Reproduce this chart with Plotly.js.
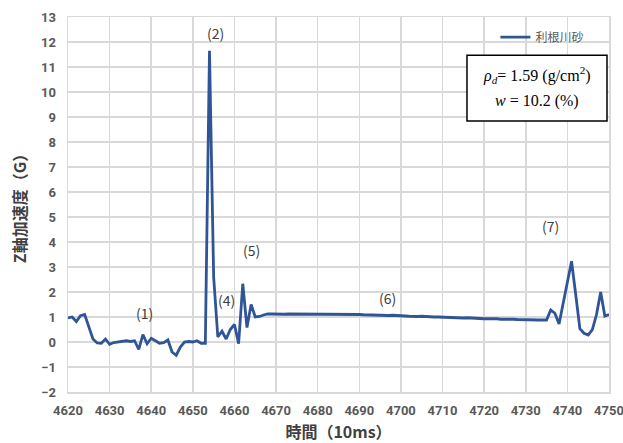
<!DOCTYPE html>
<html>
<head>
<meta charset="utf-8">
<script src="https://cdn.plot.ly/plotly-3.0.1.min.js"></script>
<style>html,body{margin:0;padding:0;background:#fff;}#chart{width:623px;height:443px;}</style>
</head>
<body>
<div id="chart"></div>
<script>
const seriesName = "利根川砂";
const time = [4620,4621,4622,4623,4624,4625,4626,4627,4628,4629,
4630,4631,4632,4633,4634,4635,4636,4637,4638,4639,
4640,4641,4642,4643,4644,4645,4646,4647,4648,4649,
4650,4651,4652,4653,4654,4655,4656,4657,4658,4659,
4660,4661,4662,4663,4664,4665,4666,4667,4668,4669,
4670,4671,4672,4673,4674,4675,4676,4677,4678,4679,
4680,4681,4682,4683,4684,4685,4686,4687,4688,4689,
4690,4691,4692,4693,4694,4695,4696,4697,4698,4699,
4700,4701,4702,4703,4704,4705,4706,4707,4708,4709,
4710,4711,4712,4713,4714,4715,4716,4717,4718,4719,
4720,4721,4722,4723,4724,4725,4726,4727,4728,4729,
4730,4731,4732,4733,4734,4735,4736,4737,4738,4739,
4740,4741,4742,4743,4744,4745,4746,4747,4748,4749,4750];
const accelZ = [0.96,1.0,0.82,1.05,1.1,0.6,0.12,-0.04,-0.05,0.12,
-0.09,-0.02,0.0,0.02,0.05,0.02,0.05,-0.3,0.3,-0.07,
0.15,0.05,-0.05,-0.03,0.08,-0.4,-0.53,-0.2,0.0,0.02,
0.0,0.05,-0.05,-0.05,11.65,2.6,0.2,0.43,0.12,0.5,
0.7,-0.07,2.33,0.58,1.5,1.0,1.02,1.08,1.12,1.12,
1.11,1.12,1.11,1.12,1.12,1.11,1.12,1.13,1.12,1.13,
1.12,1.12,1.11,1.12,1.11,1.10,1.12,1.11,1.10,1.12,
1.10,1.09,1.08,1.09,1.07,1.08,1.07,1.06,1.07,1.05,
1.05,1.04,1.03,1.01,1.02,1.03,1.01,1.02,1.00,1.00,
0.99,0.98,0.99,0.97,0.97,0.96,0.97,0.95,0.95,0.94,
0.93,0.94,0.92,0.93,0.91,0.92,0.90,0.91,0.90,0.89,
0.88,0.89,0.88,0.88,0.88,0.88,1.28,1.15,0.72,1.6,
2.4,3.23,1.9,0.53,0.35,0.28,0.5,1.1,2.0,1.04,1.1];
const labelText = ["(1)","(2)","(4)","(5)","(6)","(7)"];
const labelX = [4638.3,4655.4,4658.0,4664.0,4696.7,4735.9];
const labelY = [1.15,12.35,1.67,3.67,1.75,4.63];
const xTicks = [4620,4630,4640,4650,4660,4670,4680,4690,4700,4710,4720,4730,4740,4750];
const yTicks = [-2,-1,0,1,2,3,4,5,6,7,8,9,10,11,12,13];

const gridC = '#d9d9d9';
const tickFont = {family:'Roboto, "Noto Sans CJK JP", sans-serif', size:13, color:'#595959', weight:'bold'};
const annotations = labelText.map((t,i)=>({x:labelX[i], y:labelY[i], text:t, showarrow:false,
  xanchor:'center', yanchor:'middle',
  font:{family:'"Noto Sans CJK JP", sans-serif', size:14, color:'#404040'}}));
annotations.push({xref:'paper', yref:'paper', x:0.867, y:0.845, xanchor:'center', yanchor:'middle',
  text:'<i>ρ<sub>d</sub></i>= 1.59 (g/cm<sup>2</sup>)', showarrow:false,
  font:{family:'"Liberation Serif", serif', size:16, color:'#000'}});
annotations.push({xref:'paper', yref:'paper', x:0.867, y:0.776, xanchor:'center', yanchor:'middle',
  text:'<i>w</i> = 10.2 (%)', showarrow:false,
  font:{family:'"Liberation Serif", serif', size:16, color:'#000'}});

Plotly.newPlot('chart', [{
  x: time, y: accelZ, type:'scatter', mode:'lines', name: seriesName,
  line:{color:'#2f5597', width:2.8}
}], {
  width:623, height:443,
  margin:{l:68, r:14, t:17, b:51},
  paper_bgcolor:'#fff', plot_bgcolor:'#fff',
  showlegend:true,
  legend:{x:0.79, y:0.985, xanchor:'left', yanchor:'top', bgcolor:'rgba(0,0,0,0)',
    font:{family:'"Noto Sans CJK JP", sans-serif', size:12, color:'#595959'}},
  xaxis:{range:[4620,4750], tickvals:xTicks, showgrid:true, gridcolor:gridC, gridwidth:1.5,
    zeroline:false, showline:true, linecolor:gridC, linewidth:1.5, mirror:true,
    tickfont:tickFont, ticks:'', ticklabelstandoff:6, ticklabeloverflow:'allow',
    title:{text:'時間（10ms）', font:{family:'"Noto Sans CJK JP", sans-serif', size:16, color:'#404040', weight:'bold'}, standoff:10}},
  yaxis:{range:[-2,13], tickvals:yTicks, showgrid:true, gridcolor:gridC, gridwidth:1.5,
    zeroline:false, showline:true, linecolor:gridC, linewidth:1.5, mirror:true,
    tickfont:tickFont, ticks:'', ticklabelstandoff:8,
    title:{text:'Z軸加速度（G）', font:{family:'"Noto Sans CJK JP", sans-serif', size:16, color:'#404040', weight:'bold'}, standoff:10}},
  shapes:[
    {type:'line', xref:'paper', yref:'y', x0:0, x1:1, y0:0, y1:0, line:{color:'#a6a6a6', width:2, dash:'dot'}, layer:'below'},
    {type:'rect', xref:'paper', yref:'paper', x0:0.7375, x1:0.9963, y0:0.7227, y1:0.8979, line:{color:'#000', width:1.5}, fillcolor:'#fff', layer:'above'}
  ],
  annotations: annotations
}, {displayModeBar:false, staticPlot:true});
</script>
</body>
</html>
